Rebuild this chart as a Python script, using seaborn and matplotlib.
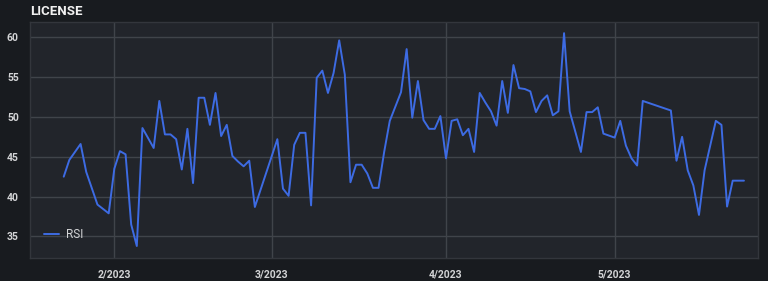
import matplotlib
matplotlib.use("Agg")
import matplotlib.pyplot as plt
import matplotlib.dates as mdates
import seaborn as sns
import pandas as pd

title = "LICENSE"
series_name = "RSI"
dates = [
    "2023-01-23", "2023-01-24", "2023-01-26", "2023-01-27", "2023-01-29", "2023-01-31",
    "2023-02-01", "2023-02-02", "2023-02-03", "2023-02-04", "2023-02-05", "2023-02-06",
    "2023-02-08", "2023-02-09", "2023-02-10", "2023-02-11", "2023-02-12", "2023-02-13",
    "2023-02-14", "2023-02-15", "2023-02-16", "2023-02-17", "2023-02-18", "2023-02-19",
    "2023-02-20", "2023-02-21", "2023-02-22", "2023-02-23", "2023-02-24", "2023-02-25",
    "2023-02-26", "2023-03-02", "2023-03-03", "2023-03-04", "2023-03-05", "2023-03-06",
    "2023-03-07", "2023-03-08", "2023-03-09", "2023-03-10", "2023-03-11", "2023-03-12",
    "2023-03-13", "2023-03-14", "2023-03-15", "2023-03-16", "2023-03-17", "2023-03-18",
    "2023-03-19", "2023-03-20", "2023-03-21", "2023-03-22", "2023-03-23", "2023-03-24",
    "2023-03-25", "2023-03-26", "2023-03-27", "2023-03-28", "2023-03-29", "2023-03-30",
    "2023-03-31", "2023-04-01", "2023-04-02", "2023-04-03", "2023-04-04", "2023-04-05",
    "2023-04-06", "2023-04-07", "2023-04-08", "2023-04-09", "2023-04-10", "2023-04-11",
    "2023-04-12", "2023-04-13", "2023-04-14", "2023-04-15", "2023-04-16", "2023-04-17",
    "2023-04-18", "2023-04-19", "2023-04-20", "2023-04-21", "2023-04-22", "2023-04-23",
    "2023-04-25", "2023-04-26", "2023-04-27", "2023-04-28", "2023-04-29", "2023-05-01",
    "2023-05-02", "2023-05-03", "2023-05-04", "2023-05-05", "2023-05-06", "2023-05-11",
    "2023-05-12", "2023-05-13", "2023-05-14", "2023-05-15", "2023-05-16", "2023-05-17",
    "2023-05-19", "2023-05-20", "2023-05-21", "2023-05-22", "2023-05-23", "2023-05-24",
]
rsi = [
    42.5, 44.6, 46.6, 43.1, 39.0, 37.9,
    43.5, 45.7, 45.3, 36.5, 33.8, 48.6,
    46.1, 52.0, 47.8, 47.8, 47.2, 43.4,
    48.5, 41.7, 52.4, 52.4, 49.0, 53.0,
    47.6, 49.0, 45.1, 44.4, 43.8, 44.5,
    38.7, 47.2, 41.0, 40.1, 46.5, 48.0,
    48.0, 38.9, 54.9, 55.8, 53.0, 55.5,
    59.6, 55.3, 41.8, 44.0, 44.0, 42.9,
    41.1, 41.1, 45.6, 49.5, 51.3, 53.1,
    58.5, 49.9, 54.5, 49.6, 48.5, 48.5,
    50.1, 44.8, 49.5, 49.7, 47.7, 48.5,
    45.6, 53.0, 51.8, 50.7, 48.9, 54.5,
    50.5, 56.5, 53.6, 53.5, 53.2, 50.6,
    52.0, 52.7, 50.2, 50.7, 60.5, 50.7,
    45.6, 50.6, 50.6, 51.2, 47.9, 47.4,
    49.5, 46.4, 44.8, 43.9, 52.0, 50.8,
    44.5, 47.5, 43.3, 41.4, 37.7, 43.3,
    49.5, 49.0, 38.75, 42.0, 42.0, 42.0,
]

df = pd.DataFrame({"date": pd.to_datetime(dates), "value": rsi, "series": series_name})

sns.set_theme(style="dark")
plt.rcParams["font.family"] = ["Roboto", "DejaVu Sans"]

fig_bg = "#181b1f"
ax_bg = "#22252b"
grid_c = "#40444a"
text_c = "#d3d4d6"
line_c = "#3d6be3"

fig = plt.figure(figsize=(7.68, 2.81), dpi=100, facecolor=fig_bg)
ax = fig.add_axes([30 / 768, 1 - 258 / 281, 728 / 768, 236 / 281])
ax.set_facecolor(ax_bg)

sns.lineplot(data=df, x="date", y="value", hue="series", palette=[line_c],
             linewidth=1.4, ax=ax)

ax.set_xlim(pd.Timestamp("2023-01-17"), pd.Timestamp("2023-05-26 12:00"))
ax.set_ylim(32.3, 61.9)
ax.set_yticks([35, 40, 45, 50, 55, 60])
ax.xaxis.set_major_locator(mdates.MonthLocator())
ax.xaxis.set_major_formatter(mdates.DateFormatter("%-m/%Y"))

ax.grid(True, color=grid_c, linewidth=1.0)
ax.tick_params(axis="both", length=0, colors=text_c, labelsize=7.5)
ax.tick_params(axis="y", pad=8)
ax.tick_params(axis="x", pad=8)
for lbl in ax.get_xticklabels() + ax.get_yticklabels():
    lbl.set_fontweight("bold")
ax.set_xlabel("")
ax.set_ylabel("")
for s in ax.spines.values():
    s.set_color("#33363c")
    s.set_linewidth(1.0)

leg = ax.legend(loc="lower left", bbox_to_anchor=(0.004, 0.025), frameon=False,
                handlelength=1.3, handletextpad=0.6, fontsize=8.5, labelcolor=text_c)

fig.text(30 / 768, 1 - 11.5 / 281, title, color="#f0f0f0", fontsize=9.5,
         fontweight="bold", va="center", ha="left")

fig.savefig("out.png", dpi=100, facecolor=fig_bg)
